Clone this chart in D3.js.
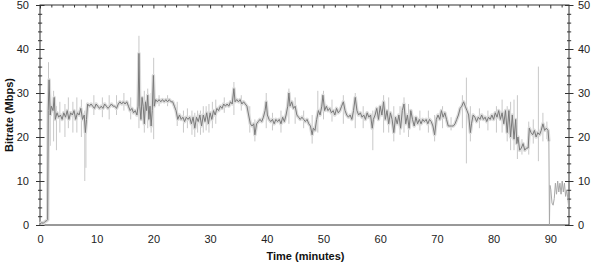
<!DOCTYPE html>
<html>
<head>
<meta charset="utf-8">
<script src="https://cdn.jsdelivr.net/npm/d3@7"></script>
<style>
  body { margin: 0; background: #fff; }
  svg { display: block; font-family: "Liberation Sans", Arial, sans-serif; }
  .axis text { font-size: 11px; fill: #222; }
  .axis path, .axis line { stroke: #333; }
  .axis-title { font-size: 11px; font-weight: bold; fill: #111; }
</style>
</head>
<body>
<div id="chart"></div>
<script>
// bitrate (Mbps) vs time (minutes), smoothed trace
const trace = [
  [0, 0.3], [0.3, 0.5], [0.6, 0.4], [0.9, 0.8], [1.2, 1.0], [1.35, 1.2], [1.45, 26], [1.6, 33],
  [1.8, 25], [2.0, 27], [2.3, 26], [2.5, 29], [2.7, 24], [3.0, 25.5], [3.3, 24.5], [3.6, 25],
  [3.9, 24], [4.2, 25.5], [4.5, 24.5], [4.8, 26], [5.1, 24], [5.4, 25.5], [5.7, 25], [6.0, 26],
  [6.3, 24], [6.6, 25.5], [6.9, 25], [7.2, 26.5], [7.5, 24], [7.8, 25], [8.0, 21], [8.2, 24],
  [8.4, 27.5], [8.7, 27], [9.0, 27.5], [9.3, 27], [9.6, 26.5], [9.9, 27.5], [10.2, 27], [10.5, 26.5],
  [10.8, 27], [11.1, 26.5], [11.4, 27.5], [11.7, 27], [12.0, 26.5], [12.3, 27], [12.6, 27.5], [12.9, 27],
  [13.2, 27], [13.5, 26.5], [13.8, 27.5], [14.1, 28], [14.4, 27.5], [14.7, 28], [15.0, 27.5], [15.3, 28],
  [15.6, 27], [15.9, 26], [16.2, 26.5], [16.5, 25.5], [16.8, 26], [17.1, 25], [17.3, 27], [17.45, 39],
  [17.6, 27], [17.8, 24], [18.0, 29], [18.2, 27], [18.4, 23], [18.6, 28], [18.8, 26], [19.0, 29.5],
  [19.2, 24], [19.4, 27], [19.6, 22.5], [19.8, 26], [20.0, 34], [20.15, 27], [20.4, 28.5], [20.7, 28],
  [21.0, 28.5], [21.3, 28], [21.6, 28.5], [21.9, 28], [22.2, 28.5], [22.5, 28], [22.8, 28.5], [23.1, 28],
  [23.4, 28], [23.7, 27], [24.0, 26], [24.3, 24], [24.6, 25], [24.9, 24], [25.2, 24.5], [25.5, 23.5],
  [25.8, 24.5], [26.1, 24], [26.4, 24.5], [26.7, 23], [27.0, 24.5], [27.3, 22], [27.6, 24.5], [27.9, 23.5],
  [28.2, 25], [28.5, 22.5], [28.8, 25], [29.1, 23.5], [29.4, 25.5], [29.7, 23], [30.0, 25.5], [30.3, 24],
  [30.6, 26], [30.9, 25], [31.2, 26.5], [31.5, 26], [31.8, 27], [32.1, 26.5], [32.4, 27.5], [32.7, 27],
  [33.0, 27.5], [33.3, 27], [33.6, 28], [33.9, 27.5], [34.2, 31], [34.4, 28], [34.7, 28.5], [35.0, 28],
  [35.3, 28.5], [35.6, 27.5], [35.9, 28], [36.2, 27.5], [36.5, 27], [36.8, 25], [37.1, 23], [37.4, 22.5],
  [37.7, 23], [37.9, 20.5], [38.2, 23], [38.5, 23.5], [38.8, 24], [39.1, 23.5], [39.4, 24.5], [39.7, 26],
  [39.9, 28], [40.1, 25], [40.4, 24], [40.7, 23.5], [41.0, 24], [41.3, 23], [41.6, 24], [41.9, 23.5],
  [42.2, 24], [42.5, 23], [42.8, 24.5], [43.1, 23.5], [43.4, 25], [43.7, 27], [43.9, 30], [44.1, 27],
  [44.4, 28], [44.7, 26.5], [45.0, 27], [45.3, 25], [45.6, 24.5], [45.9, 24], [46.2, 24.5], [46.5, 24],
  [46.8, 23.5], [47.1, 24], [47.4, 23], [47.7, 22.5], [48.0, 20.5], [48.2, 22], [48.5, 21.5], [48.8, 24],
  [49.1, 26], [49.4, 25], [49.7, 27], [49.9, 29.5], [50.2, 26], [50.5, 27], [50.8, 26], [51.1, 26.5],
  [51.4, 25.5], [51.7, 26], [52.0, 25], [52.3, 26.5], [52.6, 25.5], [52.9, 26], [53.2, 27], [53.5, 28],
  [53.8, 26], [54.1, 25], [54.4, 24.5], [54.7, 25], [55.0, 24], [55.3, 26], [55.6, 29], [55.9, 26],
  [56.2, 25], [56.5, 25.5], [56.8, 24.5], [57.1, 25], [57.4, 24], [57.7, 25.5], [58.0, 24.5], [58.3, 25],
  [58.6, 22], [58.8, 24], [59.1, 25], [59.4, 26.5], [59.7, 24], [60.0, 27], [60.3, 25], [60.6, 28],
  [60.9, 24], [61.2, 26], [61.5, 23], [61.8, 25.5], [62.1, 24], [62.4, 21], [62.7, 24.5], [63.0, 23],
  [63.3, 25], [63.6, 22], [63.9, 26], [64.2, 27.5], [64.5, 23], [64.8, 25], [65.1, 22], [65.4, 26],
  [65.7, 24], [66.0, 22.5], [66.3, 24.5], [66.6, 23], [66.9, 24], [67.2, 23], [67.5, 24], [67.8, 23.5],
  [68.1, 24], [68.4, 23], [68.7, 24], [69.0, 23.5], [69.3, 22.5], [69.6, 20.5], [69.9, 24], [70.2, 25],
  [70.5, 24], [70.8, 26], [71.1, 24.5], [71.4, 25.5], [71.7, 24], [72.0, 22.5], [72.3, 22.5], [72.6, 22.5],
  [72.9, 22.5], [73.2, 23], [73.5, 24], [73.8, 25], [74.1, 26.5], [74.4, 27], [74.7, 28], [75.0, 27],
  [75.3, 26], [75.6, 25], [75.9, 21], [76.1, 23], [76.4, 25], [76.7, 24.5], [77.0, 23.5], [77.3, 24.5],
  [77.6, 24], [77.9, 25], [78.2, 24], [78.5, 24.5], [78.8, 23.5], [79.1, 24.5], [79.4, 24], [79.7, 25],
  [80.0, 24], [80.3, 25.5], [80.6, 24.5], [80.9, 26], [81.2, 24], [81.5, 25.5], [81.8, 23], [82.1, 26],
  [82.4, 21], [82.7, 26], [83.0, 20], [83.3, 25], [83.6, 19.5], [83.9, 24], [84.1, 18.5], [84.3, 20],
  [84.6, 17], [84.9, 17.5], [85.2, 18.5], [85.5, 17], [85.8, 17.5], [86.1, 17.5], [86.3, 22], [86.6, 21],
  [86.9, 20.5], [87.2, 21.5], [87.5, 20], [87.8, 21], [88.1, 20.5], [88.4, 21.5], [88.7, 23], [89.0, 21.5],
  [89.3, 22], [89.6, 21.5], [89.75, 19]
];

// short-term extremes around the trace: [time, low, high]
const spikes = [
  [1.5, 20, 37], [1.8, 18, 30], [2.4, 19, 30.5], [2.9, 17, 27], [3.5, 21, 28], [4.4, 20, 27.5],
  [5.0, 22, 29], [5.8, 21, 28], [6.5, 21, 29], [7.3, 20, 28.5], [7.9, 10, 26], [8.1, 13, 25],
  [9.5, 25, 29.5], [11.0, 24.5, 29], [12.2, 24, 29.5], [13.5, 25, 29.5], [14.8, 26, 30], [16.0, 24, 29],
  [17.45, 22, 43], [18.4, 21, 30.5], [19.0, 22, 31], [19.6, 21, 30], [20.05, 19.5, 38], [21.0, 27, 29.5],
  [22.5, 27, 29.5], [24.2, 22.5, 28], [25.3, 21, 26], [26.0, 22, 26.5], [26.8, 20.5, 26], [27.3, 20, 25.5],
  [27.8, 21, 26], [28.3, 20.5, 26], [28.8, 21, 27], [29.3, 21.5, 27], [29.8, 21, 27.5], [30.4, 22, 28],
  [31.0, 23, 28.5], [32.5, 25.5, 29], [34.2, 25, 32.5], [35.5, 26, 29.5], [37.0, 21, 27], [37.9, 19, 24],
  [39.9, 22, 30], [41.0, 21.5, 25.5], [42.5, 21, 26], [43.9, 23, 31], [45.0, 23, 29], [46.5, 22, 26],
  [48.0, 18.5, 25], [49.0, 21, 30.5], [50.0, 24, 30.5], [51.5, 23.5, 28.5], [53.5, 23, 29.5], [55.6, 22, 30],
  [57.0, 22, 27], [58.7, 17, 26], [60.6, 21, 29.5], [61.5, 21, 29], [62.4, 19, 27], [63.5, 20.5, 27],
  [64.2, 21, 29], [65.0, 20, 27.5], [67.0, 21.5, 26], [68.5, 21, 26], [69.6, 19, 25], [71.0, 22, 27],
  [72.5, 21.5, 24.5], [74.5, 22, 29.5], [75.2, 14, 33.5], [75.9, 19, 27], [77.5, 22, 26.5], [79.0, 21.5, 26],
  [80.5, 21, 27], [81.5, 21, 28.5], [82.4, 19, 27], [83.0, 17, 28], [83.6, 17, 28.5], [84.2, 15, 29.5],
  [85.0, 16, 19.5], [86.2, 16, 23.5], [87.0, 18.5, 24], [87.9, 14.5, 36], [88.7, 19, 25.5], [89.4, 19.5, 23.5]
];

// end of recording, raw only
const tail = [
  [89.75, 19], [89.85, 0], [89.95, 9], [90.1, 8], [90.3, 5], [90.5, 4.5], [90.7, 6], [90.9, 9.5],
  [91.1, 7], [91.3, 10], [91.5, 7.5], [91.7, 9.5], [91.9, 7], [92.1, 10], [92.3, 7.5], [92.5, 9.5],
  [92.7, 6.5], [92.9, 8], [93.1, 6], [93.25, 4]
];

const xMajor = [0, 10, 20, 30, 40, 50, 60, 70, 80, 90];
const yMajor = [0, 10, 20, 30, 40, 50];

const width = 592, height = 263;
const margin = { top: 5, right: 23, bottom: 38, left: 40 };

const x = d3.scaleLinear().domain([0, 93.3]).range([margin.left, width - margin.right]);
const y = d3.scaleLinear().domain([0, 50]).range([height - margin.bottom, margin.top]);

const svg = d3.select("#chart").append("svg")
  .attr("width", width).attr("height", height);

const xMinor = d3.range(0, 93, 2).filter((d) => d % 10);
const yMinor = d3.range(0, 50, 2).filter((d) => d % 10);

// crossing ticks helper
function drawTicks(g, axis, values, inner, outer, labels, horizontal) {
  g.call(axis.tickValues(values).tickSize(0).tickPadding(labels ? 8 : 0)
      .tickFormat(labels ? d3.format("d") : ""))
    .call((g) => g.select(".domain").remove())
    .call((g) => g.selectAll(".tick line")
      .attr(horizontal ? "y1" : "x1", -outer)
      .attr(horizontal ? "y2" : "x2", inner));
}

const xLeft = x.range()[0], xRight = x.range()[1];
const yBottom = y.range()[0], yTop = y.range()[1];

// frame
svg.append("rect")
  .attr("x", xLeft).attr("y", yTop)
  .attr("width", xRight - xLeft).attr("height", yBottom - yTop)
  .attr("fill", "none").attr("stroke", "#333");

const gBottom = svg.append("g").attr("class", "axis").attr("transform", `translate(0,${yBottom})`);
drawTicks(gBottom.append("g"), d3.axisBottom(x), xMajor, 3.5, -3.5, true, true);
drawTicks(gBottom.append("g"), d3.axisBottom(x), xMinor, 2, -2, false, true);
gBottom.selectAll(".tick text").attr("dy", "0.9em");

const gTop = svg.append("g").attr("class", "axis").attr("transform", `translate(0,${yTop})`);
drawTicks(gTop.append("g"), d3.axisBottom(x), xMajor, 3.5, 0, false, true);
drawTicks(gTop.append("g"), d3.axisBottom(x), xMinor, 2.5, 0, false, true);

const gLeft = svg.append("g").attr("class", "axis").attr("transform", `translate(${xLeft},0)`);
drawTicks(gLeft.append("g"), d3.axisLeft(y), yMajor, 4.5, 4, true, false);
drawTicks(gLeft.append("g"), d3.axisLeft(y), yMinor, 2.2, 2, false, false);
gLeft.selectAll(".tick text").attr("x", -11);

const gRight = svg.append("g").attr("class", "axis").attr("transform", `translate(${xRight},0)`);
drawTicks(gRight.append("g"), d3.axisRight(y), yMajor, 4, 4.5, true, false);
drawTicks(gRight.append("g"), d3.axisRight(y), yMinor, 2, 2.2, false, false);
gRight.selectAll(".tick line").each(function () {
  const s = d3.select(this);
  s.attr("x1", -s.attr("x1")).attr("x2", -s.attr("x2"));
});
gRight.selectAll(".tick text").attr("x", 9);

const plot = svg.append("g");

const line = d3.line().x((d) => x(d[0])).y((d) => y(d[1]));

plot.selectAll(".spike")
  .data(spikes)
  .join("line")
  .attr("class", "spike")
  .attr("x1", (d) => x(d[0])).attr("x2", (d) => x(d[0]))
  .attr("y1", (d) => y(d[1])).attr("y2", (d) => y(d[2]))
  .attr("stroke", "#c8c8c8").attr("stroke-width", 1);

plot.append("path")
  .datum(trace)
  .attr("d", line)
  .attr("fill", "none")
  .attr("stroke", "#dcdcdc")
  .attr("stroke-width", 3.5)
  .attr("stroke-linejoin", "round");

plot.append("path")
  .datum(tail)
  .attr("d", line)
  .attr("fill", "none")
  .attr("stroke", "#a8a8a8")
  .attr("stroke-width", 1);

plot.append("path")
  .datum(trace)
  .attr("d", line)
  .attr("fill", "none")
  .attr("stroke", "#7a7a7a")
  .attr("stroke-width", 1);

svg.append("text")
  .attr("class", "axis-title")
  .attr("x", (xLeft + xRight) / 2 + 1)
  .attr("y", 260)
  .attr("text-anchor", "middle")
  .text("Time (minutes)");

svg.append("text")
  .attr("class", "axis-title")
  .attr("transform", `translate(13,${(yBottom + yTop) / 2}) rotate(-90)`)
  .attr("text-anchor", "middle")
  .text("Bitrate (Mbps)");
</script>
</body>
</html>
